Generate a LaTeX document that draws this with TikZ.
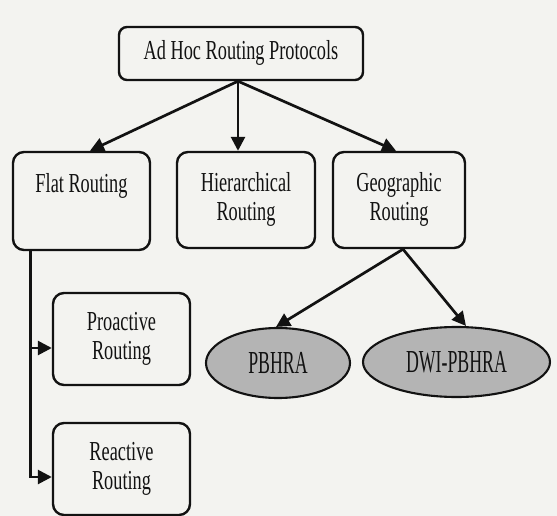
\documentclass[tikz,border=0pt]{standalone}
\usepackage{fontspec}
\setmainfont{Liberation Serif}
\usepackage{graphicx}
\usetikzlibrary{arrows.meta,shapes.geometric,calc}
\definecolor{bgc}{RGB}{243,243,240}
\definecolor{inkc}{RGB}{18,18,18}
\definecolor{ellc}{RGB}{180,180,180}
\newcommand\boxtxt[1]{\scalebox{1}[1.5]{\begin{tabular}{@{}c@{}}#1\end{tabular}}}
\newcommand\elltxt[1]{\scalebox{1}[1.8]{#1}}
\begin{document}
\begin{tikzpicture}[x=1pt,y=-1pt,
  rbox/.style={draw=inkc, line width=2.4pt, rounded corners=11pt, inner sep=0pt,
    font=\fontsize{18.3}{19.6}\selectfont, text=inkc},
  oval/.style={ellipse, draw=inkc, line width=2.1pt, fill=ellc, inner sep=0pt,
    font=\fontsize{17.8}{20}\selectfont, text=inkc},
  arr/.style={draw=inkc, line width=2.7pt, -{Triangle[length=14pt,width=14pt]}},
  ]
\useasboundingbox (0,0) rectangle (557,516);
\fill[bgc] (0,0) rectangle (557,516);

\node[rbox, minimum width=244pt, minimum height=53pt, rounded corners=8pt] (top) at (241,53.5)
  {\raisebox{-4pt}{\boxtxt{Ad Hoc Routing Protocols}}};
\node[rbox, minimum width=137pt, minimum height=98pt] (flat) at (81.5,201) {\boxtxt{Flat Routing\\\mbox{}}};
\node[rbox, minimum width=138pt, minimum height=96pt] (hier) at (246,200) {\boxtxt{Hierarchical\\Routing}};
\node[rbox, minimum width=132pt, minimum height=96pt] (geo) at (399,200) {\boxtxt{Geographic\\Routing}};
\node[rbox, minimum width=137pt, minimum height=92pt] (pro) at (121.5,339) {\boxtxt{Proactive\\Routing}};
\node[rbox, minimum width=137pt, minimum height=92pt] (rea) at (121.5,469) {\boxtxt{Reactive\\Routing}};
\node[oval, minimum width=144pt, minimum height=70pt] (pb) at (278,363) {\elltxt{PBHRA}};
\node[oval, minimum width=187pt, minimum height=70pt] (dw) at (456.5,362) {\elltxt{DWI-PBHRA}};

\coordinate (tsrc) at ([xshift=-3pt]top.south);
\draw[arr] (tsrc) -- ([xshift=8.5pt]flat.north);
\draw[arr] (tsrc) -- (tsrc |- hier.north);
\draw[arr] (tsrc) -- ([xshift=-3pt]geo.north);

\coordinate (gsrc) at ([xshift=4pt]geo.south);
\draw[arr] (gsrc) -- ([xshift=-2pt]pb.north);
\draw[arr] (gsrc) -- ([xshift=9.5pt]dw.north);

\coordinate (bus) at ([xshift=19pt]flat.south west);
\coordinate (pin) at ([yshift=-9pt]pro.west);
\coordinate (rin) at ([yshift=-8pt]rea.west);
\draw[arr] (bus) |- (rin);
\draw[arr] (bus |- pin) -- (pin);
\end{tikzpicture}
\end{document}
